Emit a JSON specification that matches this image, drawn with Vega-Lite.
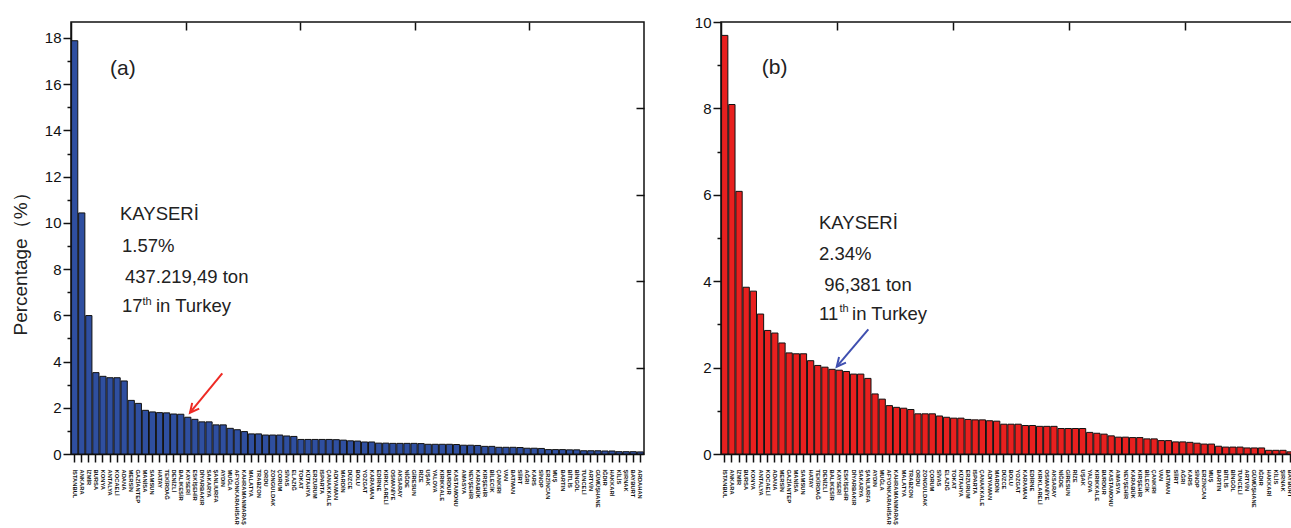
{
  "$schema": "https://vega.github.io/schema/vega-lite/v6.json",
  "padding": {"left": 10, "top": 14, "right": 0, "bottom": 0},
  "spacing": 47,
  "background": "white",
  "datasets": {
    "a": [
      {"province": "İSTANBUL", "pct": 17.88}, {"province": "ANKARA", "pct": 10.43}, {"province": "İZMİR", "pct": 5.99},
      {"province": "BURSA", "pct": 3.52}, {"province": "KONYA", "pct": 3.36}, {"province": "ANTALYA", "pct": 3.30},
      {"province": "KOCAELİ", "pct": 3.30}, {"province": "ADANA", "pct": 3.16}, {"province": "MERSİN", "pct": 2.32},
      {"province": "GAZİANTEP", "pct": 2.19}, {"province": "MANİSA", "pct": 1.89}, {"province": "SAMSUN", "pct": 1.82},
      {"province": "HATAY", "pct": 1.79}, {"province": "TEKİRDAĞ", "pct": 1.78}, {"province": "DENİZLİ", "pct": 1.73},
      {"province": "BALIKESİR", "pct": 1.72}, {"province": "KAYSERİ", "pct": 1.59}, {"province": "ESKİŞEHİR", "pct": 1.50},
      {"province": "DİYARBAKIR", "pct": 1.39}, {"province": "SAKARYA", "pct": 1.39}, {"province": "ŞANLIURFA", "pct": 1.26},
      {"province": "AYDIN", "pct": 1.26}, {"province": "MUĞLA", "pct": 1.11}, {"province": "AFYONKARAHİSAR", "pct": 1.05},
      {"province": "KAHRAMANMARAŞ", "pct": 0.97}, {"province": "MALATYA", "pct": 0.87}, {"province": "TRABZON", "pct": 0.87},
      {"province": "ORDU", "pct": 0.82}, {"province": "ZONGULDAK", "pct": 0.82}, {"province": "ÇORUM", "pct": 0.82},
      {"province": "SİVAS", "pct": 0.78}, {"province": "ELAZIĞ", "pct": 0.76}, {"province": "TOKAT", "pct": 0.63},
      {"province": "KÜTAHYA", "pct": 0.63}, {"province": "ERZURUM", "pct": 0.63}, {"province": "ISPARTA", "pct": 0.63},
      {"province": "ÇANAKKALE", "pct": 0.63}, {"province": "ADIYAMAN", "pct": 0.62}, {"province": "MARDİN", "pct": 0.60},
      {"province": "DÜZCE", "pct": 0.57}, {"province": "BOLU", "pct": 0.56}, {"province": "YOZGAT", "pct": 0.52},
      {"province": "KARAMAN", "pct": 0.52}, {"province": "EDİRNE", "pct": 0.47}, {"province": "KIRKLARELİ", "pct": 0.47},
      {"province": "OSMANİYE", "pct": 0.46}, {"province": "AKSARAY", "pct": 0.46}, {"province": "NİĞDE", "pct": 0.46},
      {"province": "GİRESUN", "pct": 0.46}, {"province": "RİZE", "pct": 0.45}, {"province": "UŞAK", "pct": 0.42},
      {"province": "YALOVA", "pct": 0.42}, {"province": "KIRIKKALE", "pct": 0.42}, {"province": "BURDUR", "pct": 0.42},
      {"province": "KASTAMONU", "pct": 0.41}, {"province": "AMASYA", "pct": 0.38}, {"province": "NEVŞEHİR", "pct": 0.38},
      {"province": "KARABÜK", "pct": 0.37}, {"province": "KIRŞEHİR", "pct": 0.33}, {"province": "BİLECİK", "pct": 0.33},
      {"province": "ÇANKIRI", "pct": 0.29}, {"province": "VAN", "pct": 0.29}, {"province": "BATMAN", "pct": 0.29},
      {"province": "SİİRT", "pct": 0.28}, {"province": "AĞRI", "pct": 0.25}, {"province": "KARS", "pct": 0.25},
      {"province": "SİNOP", "pct": 0.24}, {"province": "ERZİNCAN", "pct": 0.19}, {"province": "MUŞ", "pct": 0.19},
      {"province": "BARTIN", "pct": 0.19}, {"province": "BİTLİS", "pct": 0.18}, {"province": "BİNGÖL", "pct": 0.18},
      {"province": "TUNCELİ", "pct": 0.14}, {"province": "ARTVİN", "pct": 0.14}, {"province": "GÜMÜŞHANE", "pct": 0.14},
      {"province": "IĞDIR", "pct": 0.13}, {"province": "HAKKARİ", "pct": 0.13}, {"province": "KİLİS", "pct": 0.10},
      {"province": "ŞIRNAK", "pct": 0.10}, {"province": "BAYBURT", "pct": 0.10}, {"province": "ARDAHAN", "pct": 0.09}
    ],
    "b": [
      {"province": "İSTANBUL", "pct": 9.69}, {"province": "ANKARA", "pct": 8.09}, {"province": "İZMİR", "pct": 6.08},
      {"province": "BURSA", "pct": 3.86}, {"province": "KONYA", "pct": 3.77}, {"province": "ANTALYA", "pct": 3.24},
      {"province": "KOCAELİ", "pct": 2.86}, {"province": "ADANA", "pct": 2.80}, {"province": "MERSİN", "pct": 2.57},
      {"province": "GAZİANTEP", "pct": 2.34}, {"province": "MANİSA", "pct": 2.32}, {"province": "SAMSUN", "pct": 2.32},
      {"province": "HATAY", "pct": 2.16}, {"province": "TEKİRDAĞ", "pct": 2.05}, {"province": "DENİZLİ", "pct": 2.01},
      {"province": "BALIKESİR", "pct": 1.96}, {"province": "KAYSERİ", "pct": 1.94}, {"province": "ESKİŞEHİR", "pct": 1.91},
      {"province": "DİYARBAKIR", "pct": 1.85}, {"province": "SAKARYA", "pct": 1.85}, {"province": "ŞANLIURFA", "pct": 1.75},
      {"province": "AYDIN", "pct": 1.39}, {"province": "MUĞLA", "pct": 1.27}, {"province": "AFYONKARAHİSAR", "pct": 1.12},
      {"province": "KAHRAMANMARAŞ", "pct": 1.08}, {"province": "MALATYA", "pct": 1.06}, {"province": "TRABZON", "pct": 1.03},
      {"province": "ORDU", "pct": 0.93}, {"province": "ZONGULDAK", "pct": 0.93}, {"province": "ÇORUM", "pct": 0.93},
      {"province": "SİVAS", "pct": 0.88}, {"province": "ELAZIĞ", "pct": 0.85}, {"province": "TOKAT", "pct": 0.83},
      {"province": "KÜTAHYA", "pct": 0.83}, {"province": "ERZURUM", "pct": 0.80}, {"province": "ISPARTA", "pct": 0.79},
      {"province": "ÇANAKKALE", "pct": 0.79}, {"province": "ADIYAMAN", "pct": 0.77}, {"province": "MARDİN", "pct": 0.76},
      {"province": "DÜZCE", "pct": 0.69}, {"province": "BOLU", "pct": 0.69}, {"province": "YOZGAT", "pct": 0.69},
      {"province": "KARAMAN", "pct": 0.66}, {"province": "EDİRNE", "pct": 0.66}, {"province": "KIRKLARELİ", "pct": 0.64},
      {"province": "OSMANİYE", "pct": 0.64}, {"province": "AKSARAY", "pct": 0.64}, {"province": "NİĞDE", "pct": 0.59},
      {"province": "GİRESUN", "pct": 0.59}, {"province": "RİZE", "pct": 0.59}, {"province": "UŞAK", "pct": 0.59},
      {"province": "YALOVA", "pct": 0.50}, {"province": "KIRIKKALE", "pct": 0.48}, {"province": "BURDUR", "pct": 0.46},
      {"province": "KASTAMONU", "pct": 0.42}, {"province": "AMASYA", "pct": 0.39}, {"province": "NEVŞEHİR", "pct": 0.39},
      {"province": "KARABÜK", "pct": 0.38}, {"province": "KIRŞEHİR", "pct": 0.38}, {"province": "BİLECİK", "pct": 0.35},
      {"province": "ÇANKIRI", "pct": 0.35}, {"province": "VAN", "pct": 0.31}, {"province": "BATMAN", "pct": 0.31},
      {"province": "SİİRT", "pct": 0.28}, {"province": "AĞRI", "pct": 0.28}, {"province": "KARS", "pct": 0.27},
      {"province": "SİNOP", "pct": 0.25}, {"province": "ERZİNCAN", "pct": 0.23}, {"province": "MUŞ", "pct": 0.23},
      {"province": "BARTIN", "pct": 0.18}, {"province": "BİTLİS", "pct": 0.16}, {"province": "BİNGÖL", "pct": 0.16},
      {"province": "TUNCELİ", "pct": 0.16}, {"province": "ARTVİN", "pct": 0.14}, {"province": "GÜMÜŞHANE", "pct": 0.14},
      {"province": "IĞDIR", "pct": 0.14}, {"province": "HAKKARİ", "pct": 0.085}, {"province": "KİLİS", "pct": 0.085},
      {"province": "ŞIRNAK", "pct": 0.085}, {"province": "BAYBURT", "pct": 0.05}, {"province": "ARDAHAN", "pct": 0.04}
    ]
  },
  "hconcat": [
    {
      "width": 573,
      "height": 432,
      "layer": [
        {
          "data": {"name": "a"},
          "mark": {"type": "bar", "fill": "#2F4FA0", "stroke": "#111111", "strokeWidth": 1},
          "encoding": {
            "x": {
              "field": "province", "type": "nominal", "sort": null,
              "scale": {"paddingInner": 0.12, "paddingOuter": 0.08},
              "axis": {"title": null, "labelAngle": 90, "labelFontSize": 5.8, "labelFontWeight": "bold", "labelPadding": 7, "tickSize": 8, "labelOverlap": false}
            },
            "y": {
              "field": "pct", "type": "quantitative",
              "scale": {"domain": [0, 18.69], "nice": false},
              "axis": {
                "title": "Percentage（%）", "titleFontSize": 19, "titleFontWeight": "normal", "titlePadding": 14, "titleY": 237,
                "values": [0, 1, 2, 3, 4, 5, 6, 7, 8, 9, 10, 11, 12, 13, 14, 15, 16, 17, 18],
                "labelExpr": "datum.value % 2 === 0 ? datum.label : ''",
                "labelPadding": 2,
                "tickSize": {"condition": {"test": "datum.value % 2 === 0", "value": 8}, "value": 4}
              }
            }
          }
        },
        {
          "layer": [
            {
              "data": {"values": [{}]},
              "mark": {"type": "text", "text": "(a)", "fontSize": 21, "align": "left", "baseline": "middle", "color": "#222222"},
              "encoding": {
                "x": {"datum": 0.068, "type": "quantitative", "scale": {"domain": [0, 1], "nice": false}, "axis": {"orient": "top", "values": [0.2, 0.4, 0.6, 0.8], "labels": false, "domain": false, "tickSize": 8, "offset": -8, "title": null}},
                "y": {"datum": 0.891, "type": "quantitative", "scale": {"domain": [0, 1], "nice": false}, "axis": {"orient": "right", "values": [0.2, 0.4, 0.6, 0.8], "labels": false, "domain": false, "tickSize": 8, "offset": -8, "title": null}}
              }
            },
            {
              "data": {"values": [{}]},
              "mark": {"type": "text", "text": "KAYSERİ", "fontSize": 18.5, "align": "left", "baseline": "middle", "color": "#222222"},
              "encoding": {"x": {"datum": 0.0855, "type": "quantitative"}, "y": {"datum": 0.5556, "type": "quantitative"}}
            },
            {
              "data": {"values": [{}]},
              "mark": {"type": "text", "text": "1.57%", "fontSize": 18.5, "align": "left", "baseline": "middle", "color": "#222222"},
              "encoding": {"x": {"datum": 0.089, "type": "quantitative"}, "y": {"datum": 0.4815, "type": "quantitative"}}
            },
            {
              "data": {"values": [{}]},
              "mark": {"type": "text", "text": "437.219,49 ton", "fontSize": 18.5, "align": "left", "baseline": "middle", "color": "#222222"},
              "encoding": {"x": {"datum": 0.0942, "type": "quantitative"}, "y": {"datum": 0.4097, "type": "quantitative"}}
            },
            {
              "data": {"values": [{}]},
              "mark": {"type": "text", "text": "17", "fontSize": 18.5, "align": "left", "baseline": "middle", "color": "#222222"},
              "encoding": {"x": {"datum": 0.089, "type": "quantitative"}, "y": {"datum": 0.3426, "type": "quantitative"}}
            },
            {
              "data": {"values": [{}]},
              "mark": {"type": "text", "text": "th", "fontSize": 11, "align": "left", "baseline": "middle", "color": "#222222"},
              "encoding": {"x": {"datum": 0.1248, "type": "quantitative"}, "y": {"datum": 0.353, "type": "quantitative"}}
            },
            {
              "data": {"values": [{}]},
              "mark": {"type": "text", "text": "in Turkey", "fontSize": 18.5, "align": "left", "baseline": "middle", "color": "#222222"},
              "encoding": {"x": {"datum": 0.1483, "type": "quantitative"}, "y": {"datum": 0.3426, "type": "quantitative"}}
            },
            {
              "data": {"values": [{}]},
              "mark": {"type": "rule", "color": "#EE2A24", "strokeWidth": 2},
              "encoding": {
                "x": {"datum": 0.264, "type": "quantitative"}, "y": {"datum": 0.1868, "type": "quantitative"},
                "x2": {"datum": 0.2077}, "y2": {"datum": 0.0956}
              }
            },
            {
              "data": {"values": [{}]},
              "mark": {"type": "point", "shape": "M-0.45,0.9L0,0L0.45,0.9", "filled": false, "stroke": "#EE2A24", "strokeWidth": 2, "size": 400, "angle": 219, "opacity": 1},
              "encoding": {"x": {"datum": 0.2077, "type": "quantitative"}, "y": {"datum": 0.0956, "type": "quantitative"}}
            }
          ]
        }
      ],
      "resolve": {"scale": {"x": "independent", "y": "independent"}, "axis": {"x": "independent", "y": "independent"}}
    },
    {
      "width": 580,
      "height": 432,
      "layer": [
        {
          "data": {"name": "b"},
          "mark": {"type": "bar", "fill": "#E8201F", "stroke": "#111111", "strokeWidth": 1},
          "encoding": {
            "x": {
              "field": "province", "type": "nominal", "sort": null,
              "scale": {"paddingInner": 0.12, "paddingOuter": 0.08},
              "axis": {"title": null, "labelAngle": 90, "labelFontSize": 5.8, "labelFontWeight": "bold", "labelPadding": 7, "tickSize": 8, "labelOverlap": false}
            },
            "y": {
              "field": "pct", "type": "quantitative",
              "scale": {"domain": [0, 10], "nice": false},
              "axis": {
                "title": null,
                "values": [0, 1, 2, 3, 4, 5, 6, 7, 8, 9, 10],
                "labelExpr": "datum.value % 2 === 0 ? datum.label : ''",
                "labelPadding": 2,
                "tickSize": {"condition": {"test": "datum.value % 2 === 0", "value": 8}, "value": 4}
              }
            }
          }
        },
        {
          "layer": [
            {
              "data": {"values": [{}]},
              "mark": {"type": "text", "text": "(b)", "fontSize": 21, "align": "left", "baseline": "middle", "color": "#222222"},
              "encoding": {
                "x": {"datum": 0.0702, "type": "quantitative", "scale": {"domain": [0, 1], "nice": false}, "axis": {"orient": "top", "values": [0.2, 0.4, 0.6, 0.8], "labels": false, "domain": false, "tickSize": 8, "offset": -8, "title": null}},
                "y": {"datum": 0.894, "type": "quantitative", "scale": {"domain": [0, 1], "nice": false}, "axis": {"orient": "right", "values": [0.2, 0.4, 0.6, 0.8], "labels": false, "domain": false, "tickSize": 8, "offset": -8, "title": null}}
              }
            },
            {
              "data": {"values": [{}]},
              "mark": {"type": "text", "text": "KAYSERİ", "fontSize": 18.5, "align": "left", "baseline": "middle", "color": "#222222"},
              "encoding": {"x": {"datum": 0.169, "type": "quantitative"}, "y": {"datum": 0.5354, "type": "quantitative"}}
            },
            {
              "data": {"values": [{}]},
              "mark": {"type": "text", "text": "2.34%", "fontSize": 18.5, "align": "left", "baseline": "middle", "color": "#222222"},
              "encoding": {"x": {"datum": 0.169, "type": "quantitative"}, "y": {"datum": 0.463, "type": "quantitative"}}
            },
            {
              "data": {"values": [{}]},
              "mark": {"type": "text", "text": "96,381 ton", "fontSize": 18.5, "align": "left", "baseline": "middle", "color": "#222222"},
              "encoding": {"x": {"datum": 0.178, "type": "quantitative"}, "y": {"datum": 0.391, "type": "quantitative"}}
            },
            {
              "data": {"values": [{}]},
              "mark": {"type": "text", "text": "11", "fontSize": 18.5, "align": "left", "baseline": "middle", "color": "#222222"},
              "encoding": {"x": {"datum": 0.169, "type": "quantitative"}, "y": {"datum": 0.324, "type": "quantitative"}}
            },
            {
              "data": {"values": [{}]},
              "mark": {"type": "text", "text": "th", "fontSize": 11, "align": "left", "baseline": "middle", "color": "#222222"},
              "encoding": {"x": {"datum": 0.2043, "type": "quantitative"}, "y": {"datum": 0.335, "type": "quantitative"}}
            },
            {
              "data": {"values": [{}]},
              "mark": {"type": "text", "text": "in Turkey", "fontSize": 18.5, "align": "left", "baseline": "middle", "color": "#222222"},
              "encoding": {"x": {"datum": 0.2259, "type": "quantitative"}, "y": {"datum": 0.324, "type": "quantitative"}}
            },
            {
              "data": {"values": [{}]},
              "mark": {"type": "rule", "color": "#3F4FB0", "strokeWidth": 2},
              "encoding": {
                "x": {"datum": 0.254, "type": "quantitative"}, "y": {"datum": 0.2887, "type": "quantitative"},
                "x2": {"datum": 0.1995}, "y2": {"datum": 0.2021}
              }
            },
            {
              "data": {"values": [{}]},
              "mark": {"type": "point", "shape": "M-0.45,0.9L0,0L0.45,0.9", "filled": false, "stroke": "#3F4FB0", "strokeWidth": 2, "size": 400, "angle": 220, "opacity": 1},
              "encoding": {"x": {"datum": 0.1995, "type": "quantitative"}, "y": {"datum": 0.2021, "type": "quantitative"}}
            }
          ]
        }
      ],
      "resolve": {"scale": {"x": "independent", "y": "independent"}, "axis": {"x": "independent", "y": "independent"}}
    }
  ],
  "config": {
    "font": "Liberation Sans",
    "view": {"stroke": "#111111", "strokeWidth": 1.5},
    "axis": {
      "grid": false, "domainColor": "#111111", "domainWidth": 1.5, "tickColor": "#111111", "tickWidth": 1.5,
      "labelColor": "#111111", "labelFont": "Liberation Sans", "labelFontSize": 15, "titleFont": "Liberation Sans", "titleColor": "#222222"
    }
  }
}
